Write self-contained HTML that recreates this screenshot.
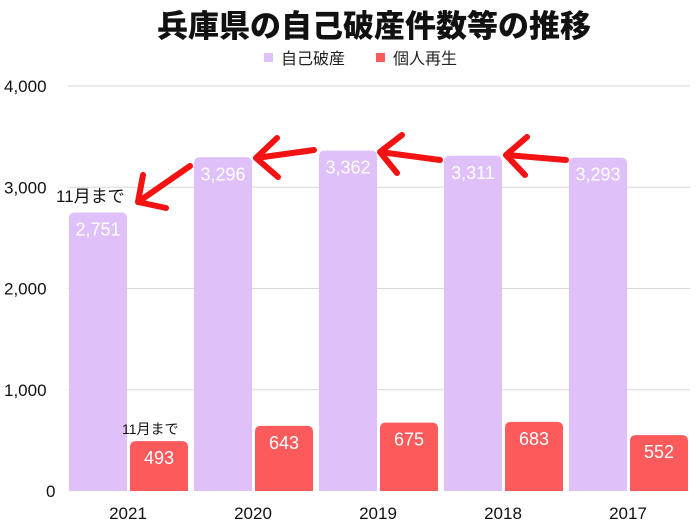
<!DOCTYPE html>
<html><head><meta charset="utf-8">
<style>
body{margin:0;background:#fff;}
svg{display:block;font-family:"Liberation Sans","Noto Sans CJK JP",sans-serif;}
</style></head>
<body>
<svg id="c" width="700" height="525" viewBox="0 0 700 525">
<text x="374" y="37" text-anchor="middle" font-size="31" font-weight="900" fill="#111" font-family="'Noto Sans CJK JP',sans-serif">兵庫県の自己破産件数等の推移</text>
<g>
<rect x="264" y="53" width="9" height="9" fill="#dfc0f8"/>
<text x="281" y="64" font-size="16" fill="#222">自己破産</text>
<rect x="376" y="53" width="9" height="9" fill="#fd5a5c"/>
<text x="393" y="64" font-size="16" fill="#222">個人再生</text>
</g>
<g id="grid"></g>
<g id="bars"></g>
<g id="anno">
<text x="56" y="202" font-size="17" fill="#111">11月まで</text>
<text x="122" y="434" font-size="14" fill="#111">11月まで</text>
<g stroke="#f41212" stroke-width="6" stroke-linecap="round" fill="none">
<path d="M190 166 L138 202 M138 202 L143 175 M138 202 L166 208"/>
<path d="M314 150 L256 158 M256 158 L277 138 M256 158 L278 177"/>
<path d="M440 160 L380 152 M380 152 L402 135 M380 152 L397 173"/>
<path d="M566 160 L506 155 M506 155 L527 137 M506 155 L525 175"/>
</g>
</g>
</svg>
<script>
const categories=["2021","2020","2019","2018","2017"];
const bankruptcy=[2751,3296,3362,3311,3293];
const rehabilitation=[493,643,675,683,552];
const yTicks=[0,1000,2000,3000,4000];
const yTickLabels=["0","1,000","2,000","3,000","4,000"];
const NS="http://www.w3.org/2000/svg";
const y0=491,yTop=86,yMax=4000,x0=66,step=125;
const y=v=>y0-(v/yMax)*(y0-yTop);
const fmt=v=>v.toLocaleString("en-US");
function el(t,a,p){const e=document.createElementNS(NS,t);for(const k in a)e.setAttribute(k,a[k]);p.appendChild(e);return e;}
const grid=document.getElementById("grid"),bars=document.getElementById("bars");
yTicks.forEach((t,i)=>{
 if(t>0){const l=el("line",{x1:68,x2:690,y1:y(t),y2:y(t),stroke:"#d8d8d8","stroke-width":1},grid);
 
 }
 const tx=el("text",{x:i==0?46:4,y:y(t)+6,"font-size":17,fill:"#111"},grid);
 tx.textContent=yTickLabels[i];
 
 
});
function bar(x,w,v,color,tc){
 const top=y(v),r=6;
 const p=el("path",{d:`M${x} ${y0} L${x} ${top+r} Q${x} ${top} ${x+r} ${top} L${x+w-r} ${top} Q${x+w} ${top} ${x+w} ${top+r} L${x+w} ${y0} Z`,fill:color},bars);
 const t=el("text",{x:x+w/2,y:top+23,"text-anchor":"middle","font-size":18,fill:tc},bars);
 t.textContent=fmt(v);
 return [p,t];
}
categories.forEach((c,i)=>{
 const gx=x0+i*step;
 const [p1,t1]=bar(gx+3,58,bankruptcy[i],"#dfc0f8","#fff");
 
 
 
 
 const [p2,t2]=bar(gx+64,58,rehabilitation[i],"#fd5a5c","#fff");
 
 
 
 
 const xl=el("text",{x:gx+62,y:519,"text-anchor":"middle","font-size":17,fill:"#111"},bars);
 xl.textContent=c;
 
 
});
</script>
</body></html>
